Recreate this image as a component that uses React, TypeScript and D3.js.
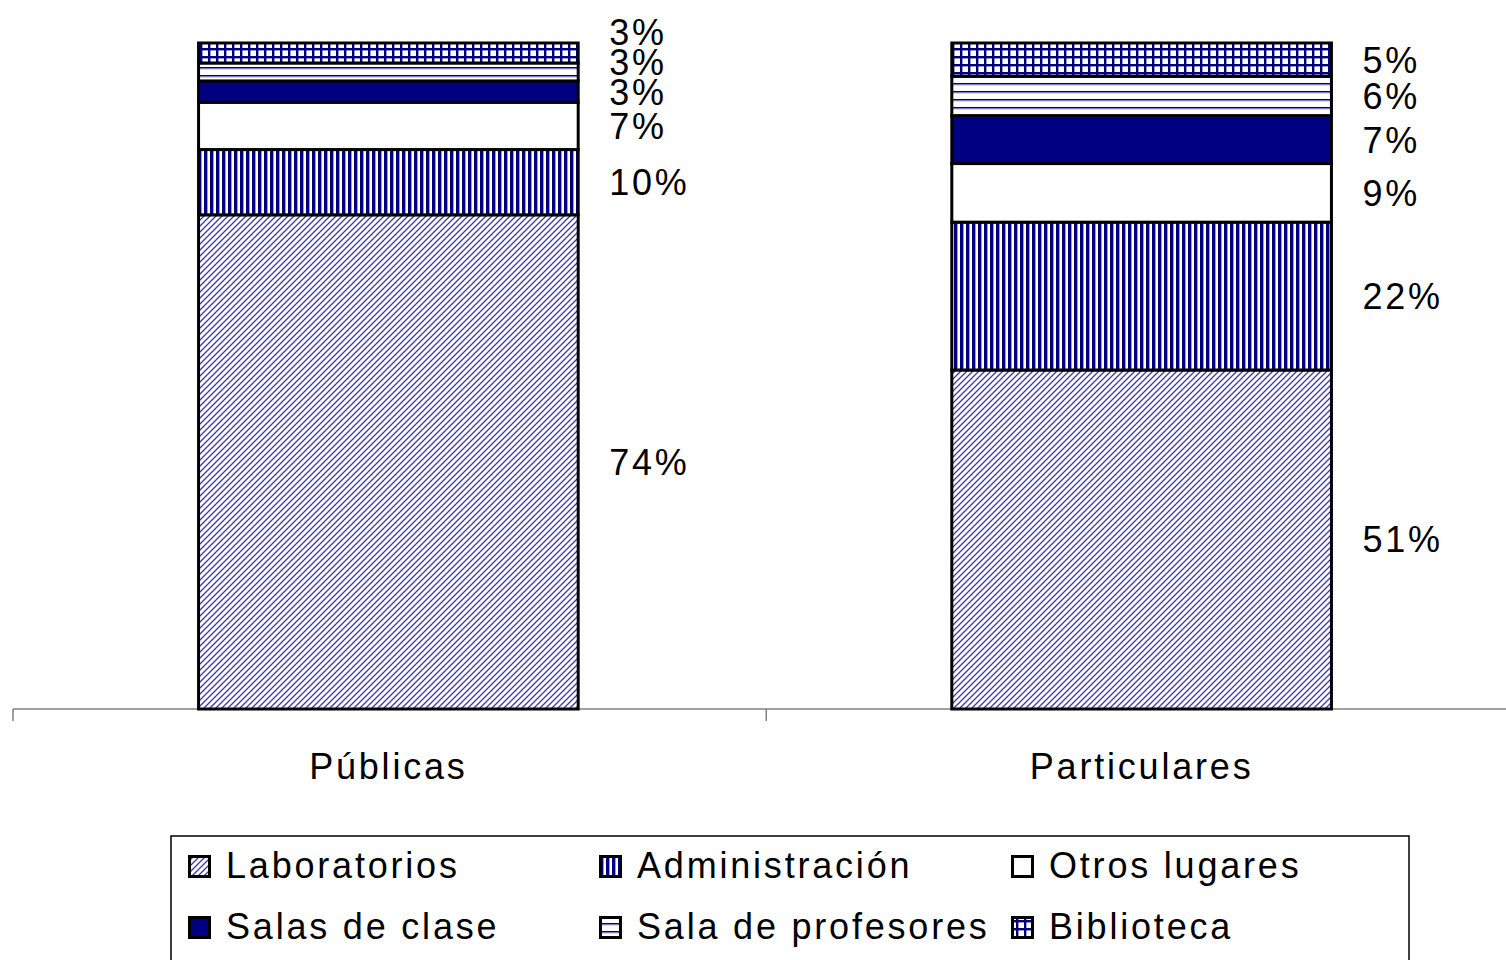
import React from "react";
import * as d3 from "d3";

const categories = ["Públicas", "Particulares"];
const seriesNames = [
  "Laboratorios",
  "Administración",
  "Otros lugares",
  "Salas de clase",
  "Sala de profesores",
  "Biblioteca",
];
const laboratorios = [74.2, 50.9];
const administracion = [9.8, 22.2];
const otrosLugares = [7.1, 8.8];
const salasDeClase = [3.2, 7.2];
const salaDeProfesores = [2.7, 5.9];
const biblioteca = [3.0, 5.0];

const seriesValues = [
  laboratorios,
  administracion,
  otrosLugares,
  salasDeClase,
  salaDeProfesores,
  biblioteca,
];
const fills = [
  "url(#pLab)",
  "url(#pAdm)",
  "#ffffff",
  "#000080",
  "url(#pProf)",
  "url(#pBib)",
];

const W = 1506;
const H = 960;
const NAVY = "#000080";
const FONT = "'Liberation Sans', Arial, Helvetica, sans-serif";
const FS = 36;
const LS = 2.8;

export default function App() {
  const rows = categories.map((c, i) => {
    const r: any = { category: c };
    seriesNames.forEach((s, k) => (r[s] = seriesValues[k][i]));
    return r;
  });
  const stack = d3.stack<any>().keys(seriesNames)(rows);

  const x = d3
    .scaleBand<string>()
    .domain(categories)
    .range([11, 1519])
    .paddingInner(0.496)
    .paddingOuter(0.249);
  const y = d3.scaleLinear().domain([0, 100]).range([709, 43]);

  const axisY = y(0);
  const step = x.step();
  const r0 = 13;
  const tickXs = d3.range(categories.length + 1).map((i) => r0 + i * step);

  // label positions with simple overlap avoidance (bottom-up)
  const labelPos = categories.map((c, ci) => {
    let prev = Infinity;
    return stack.map((layer) => {
      const d = layer[ci];
      const center = (y(d[0]) + y(d[1])) / 2;
      const yy = Math.min(center, prev - 30);
      prev = yy;
      return { y: yy, text: Math.round(d[1] - d[0]) + "%" };
    });
  });

  const legendCols = [188, 599, 1011];
  const legendRows = [878, 939];

  return (
    <svg
      width={W}
      height={H}
      style={{ position: "absolute", left: 0, top: 0, display: "block", background: "#fff" }}
      fontFamily={FONT}
    >
      <defs>
        <pattern id="pLab" width="6" height="6" patternUnits="userSpaceOnUse">
          <rect width="6" height="6" fill="#fff" />
          <path d="M-1,7 L7,-1 M-1,1 L1,-1 M5,7 L7,5" stroke="#3a3aa0" strokeWidth="1.3" />
        </pattern>
        <pattern id="pAdm" width="6" height="6" patternUnits="userSpaceOnUse">
          <rect width="6" height="6" fill="#fff" />
          <rect x="0" width="3" height="6" fill={NAVY} />
          <rect x="3" width="0.8" height="6" fill="#8080c0" />
        </pattern>
        <pattern id="pProf" width="8" height="8" patternUnits="userSpaceOnUse">
          <rect width="8" height="8" fill="#fff" />
          <rect y="3" width="8" height="1.6" fill={NAVY} />
          <rect y="4.6" width="8" height="0.8" fill="#a0a0d8" />
        </pattern>
        <pattern id="pBib" width="8" height="8" patternUnits="userSpaceOnUse">
          <rect width="8" height="8" fill="#fff" />
          <rect x="0" width="2.4" height="8" fill={NAVY} />
          <rect y="0" width="8" height="2.4" fill={NAVY} />
        </pattern>
      </defs>

      {/* axis */}
      <line x1={r0} x2={W} y1={axisY} y2={axisY} stroke="#808080" strokeWidth={1.5} />
      {tickXs.map((tx, i) => (
        <line key={i} x1={tx} x2={tx} y1={axisY} y2={axisY + 12} stroke="#808080" strokeWidth={1.5} />
      ))}

      {/* bars */}
      {stack.map((layer, k) => (
        <g key={k}>
          {layer.map((d, ci) => (
            <rect
              key={ci}
              x={x(categories[ci])}
              y={y(d[1])}
              width={x.bandwidth()}
              height={y(d[0]) - y(d[1])}
              fill={fills[k]}
              stroke="#000"
              strokeWidth={3}
            />
          ))}
        </g>
      ))}

      {/* data labels */}
      {labelPos.map((lbls, ci) =>
        lbls.map((l, k) => (
          <text
            key={ci + "-" + k}
            x={(x(categories[ci]) as number) + x.bandwidth() + 31}
            y={l.y}
            dy="0.36em"
            fontSize={FS}
            letterSpacing={LS}
            fill="#000"
          >
            {l.text}
          </text>
        ))
      )}

      {/* category labels */}
      {categories.map((c) => (
        <text
          key={c}
          x={(x(c) as number) + x.bandwidth() / 2}
          y={779}
          textAnchor="middle"
          fontSize={FS}
          letterSpacing={LS}
          fill="#000"
        >
          {c}
        </text>
      ))}

      {/* legend */}
      <rect x={171} y={836} width={1238} height={140} fill="none" stroke="#000" strokeWidth={1.5} />
      {seriesNames.map((s, k) => {
        const lx = legendCols[k % 3];
        const ly = legendRows[Math.floor(k / 3)];
        return (
          <g key={s}>
            <rect x={lx + 1.5} y={ly - 21.5} width={20} height={20} fill={fills[k]} stroke="#000" strokeWidth={3} />
            <text x={lx + 38} y={ly} fontSize={FS} letterSpacing={LS} fill="#000">
              {s}
            </text>
          </g>
        );
      })}
    </svg>
  );
}
